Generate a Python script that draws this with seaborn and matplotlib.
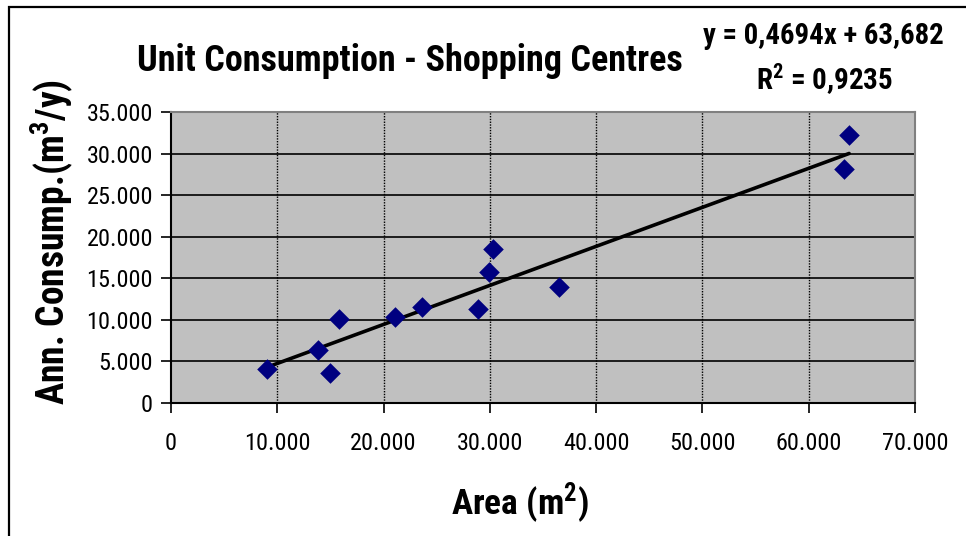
import matplotlib
matplotlib.use("Agg")
import matplotlib.pyplot as plt
from matplotlib.patches import Rectangle
from matplotlib.ticker import FuncFormatter
import numpy as np
import pandas as pd
import seaborn as sns

# Shopping centres: floor area (m2) vs annual consumption (m3/y)
area = [9000, 13800, 15000, 15800, 21100, 23600, 28900, 29900, 30300, 36500, 63300, 63800]
consumption = [4100, 6400, 3600, 10100, 10300, 11500, 11300, 15800, 18500, 13900, 28100, 32200]

# Linear trendline coefficients
slope = 0.4694
intercept = 63.682
r_squared = 0.9235

x_ticks = [0, 10000, 20000, 30000, 40000, 50000, 60000, 70000]
y_ticks = [0, 5000, 10000, 15000, 20000, 25000, 30000, 35000]

FONT = "Roboto Condensed"
sns.set_theme(style="white")
plt.rcParams["font.family"] = [FONT, "Liberation Sans", "DejaVu Sans"]
plt.rcParams["text.color"] = "black"
plt.rcParams["axes.labelcolor"] = "black"
plt.rcParams["mathtext.fontset"] = "custom"
plt.rcParams["mathtext.rm"] = FONT
plt.rcParams["mathtext.bf"] = FONT + ":bold"
plt.rcParams["mathtext.default"] = "bf"

df = pd.DataFrame({"area": area, "consumption": consumption})
trend_x = np.array([min(area), max(area)])
trend = pd.DataFrame({"area": trend_x, "consumption": slope * trend_x + intercept})

fig = plt.figure(figsize=(9.66, 5.36), dpi=100)
ax = fig.add_axes([171 / 966, 1 - 403 / 536, (915 - 171) / 966, (403 - 112) / 536])
ax.set_facecolor("#C0C0C0")

ax.set_xlim(x_ticks[0], x_ticks[-1])
ax.set_ylim(y_ticks[0], y_ticks[-1])
ax.set_xticks(x_ticks)
ax.set_yticks(y_ticks)

# grid: solid horizontal lines, dotted vertical lines
for v in y_ticks[1:-1]:
    ax.axhline(v, color="black", lw=1.2, zorder=1)
for v in x_ticks[1:-1]:
    ax.axvline(v, color="black", lw=1.0, ls=(0, (1, 1)), zorder=1)

sns.lineplot(data=trend, x="area", y="consumption", ax=ax, color="black", lw=2.6, zorder=3)
sns.scatterplot(data=df, x="area", y="consumption", ax=ax, marker="D", s=110,
                color="#000080", edgecolor="#000080", linewidth=0, zorder=4)

fmt = FuncFormatter(lambda v, p: f"{v:,.0f}".replace(",", "."))
ax.xaxis.set_major_formatter(fmt)
ax.yaxis.set_major_formatter(fmt)

for s in ("top", "right"):
    ax.spines[s].set_color("#808080")
    ax.spines[s].set_linewidth(1.5)
for s in ("left", "bottom"):
    ax.spines[s].set_color("black")
    ax.spines[s].set_linewidth(1.5)

ax.tick_params(axis="both", direction="out", length=7, width=1.2, color="black",
               labelsize=17.5, labelcolor="black")
ax.tick_params(axis="y", left=True, pad=6)
ax.tick_params(axis="x", bottom=True, pad=14)

ax.set_xlabel("Area (m$^{2}$)", fontsize=25.5, fontweight="bold")
ax.set_ylabel("Ann. Consump.(m$^{3}$/y)", fontsize=27, fontweight="bold")
ax.xaxis.set_label_coords((520 - 171) / (915 - 171), -(503 - 403) / (403 - 112))
ax.xaxis.label.set_va("center")
ax.yaxis.set_label_coords(-(171 - 52) / (915 - 171), (403 - 242) / (403 - 112))
ax.yaxis.label.set_va("center")

fig.text(410 / 966, 1 - 61 / 536, "Unit Consumption - Shopping Centres",
         ha="center", va="center", fontsize=26, fontweight="bold")
fig.text(823 / 966, 1 - 36 / 536, "y = 0,4694x + 63,682",
         ha="center", va="center", fontsize=20.8, fontweight="bold")
fig.text(825 / 966, 1 - 79 / 536, "R$^{2}$ = 0,9235",
         ha="center", va="center", fontsize=21, fontweight="bold")

# chart frame
fig.patches.append(Rectangle((9 / 966, -0.1), 1.2, 1.1 - 7 / 536,
                             transform=fig.transFigure, fill=False,
                             edgecolor="black", lw=1.6))

fig.savefig("out.png", dpi=100, facecolor="white")
